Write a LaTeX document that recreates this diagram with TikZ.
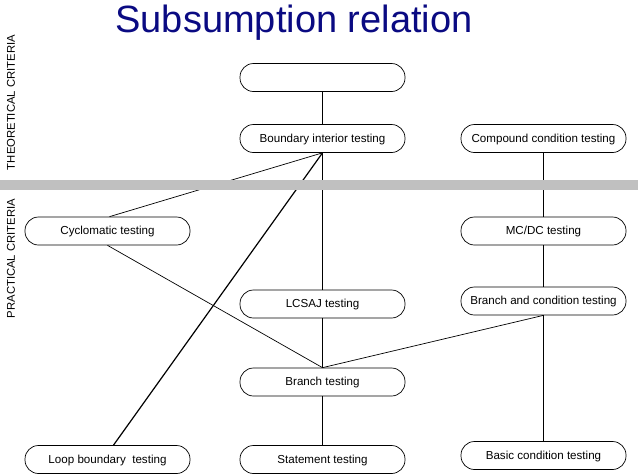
\documentclass[tikz,border=0pt]{standalone}
\usepackage{fontspec}
\setmainfont{Liberation Sans}
\definecolor{titleblue}{RGB}{10,10,130}
\definecolor{bandgray}{RGB}{192,192,192}
\begin{document}
\begin{tikzpicture}[x=1pt,y=1pt,
  crit/.style={draw=black, line width=0.7pt, fill=white, rounded corners=13.5pt,
    minimum width=165pt, minimum height=28pt, inner sep=0pt,
    text height=8pt, text depth=1pt,
    font=\fontsize{11.6}{13}\selectfont},
  link/.style={draw=black, line width=0.7pt},
  thick link/.style={draw=black, line width=1.2pt},
  side/.style={rotate=90, font=\fontsize{11.3}{13}\selectfont, inner sep=0pt}]
\useasboundingbox (0,0) rectangle (638,-475);
\node[anchor=base, text=titleblue, font=\fontsize{38}{42}\selectfont, inner sep=0pt] (title) at (294,-32) {Subsumption relation};
\node[side] (theo) at (11,-102.5) {THEORETICAL CRITERIA};
\node[side] (prac) at (11,-258.5) {PRACTICAL CRITERIA};
% nodes
\node[crit] (top) at (322.5,-77.5) {};
\node[crit] (bi) at (322.5,-138.5) {Boundary interior testing};
\node[crit] (cc) at (543.5,-138.5) {Compound condition testing};
\node[crit] (cy) at (107.5,-231) {Cyclomatic testing};
\node[crit] (mcdc) at (543.5,-231) {MC/DC testing};
\node[crit] (lcsaj) at (322.5,-304) {LCSAJ testing};
\node[crit] (bc) at (543.5,-301) {Branch and condition testing};
\node[crit] (br) at (322.5,-382) {Branch testing};
\node[crit] (loop) at (107.5,-459.5) {Loop boundary\ \ testing};
\node[crit] (st) at (322.5,-459.5) {Statement testing};
\node[crit] (basic) at (543.5,-455.5) {Basic condition testing};
% connectors
\draw[link] (top.south) -- (bi.north);
\draw[link] (bi.south) -- ([xshift=2pt]cy.north);
\draw[thick link] (bi.south) -- ([xshift=6pt]loop.north);
\draw[link] (bi.south) -- (lcsaj.north);
\draw[link] (lcsaj.south) -- (br.north);
\draw[link] (cy.south) -- (br.north);
\draw[link] (bc.south) -- (br.north);
\draw[link] (br.south) -- (st.north);
\draw[link] (cc.south) -- (mcdc.north);
\draw[link] (mcdc.south) -- (bc.north);
\draw[link] (bc.south) -- (basic.north);
% band
\fill[bandgray] (0,-180) rectangle (638,-189.5);
\end{tikzpicture}
\end{document}
